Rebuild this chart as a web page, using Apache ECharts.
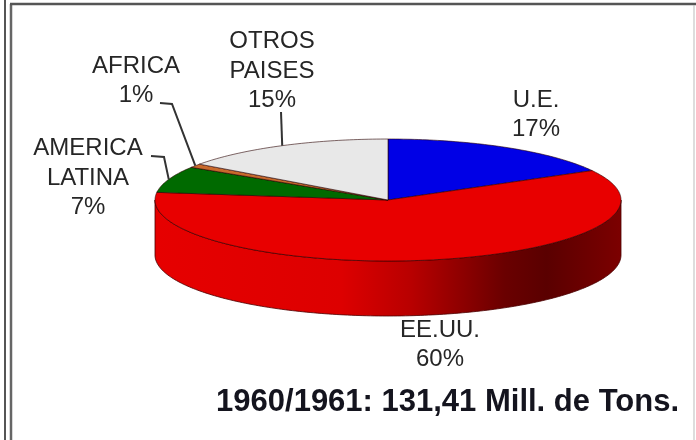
<!DOCTYPE html>
<html>
  <head>
    <meta charset="utf-8">
    <title></title>
    <script src="https://cdn.jsdelivr.net/npm/echarts@6/dist/echarts.min.js"></script>
    <style media="screen">
    html,body{
      height:100%;
      width:100%;
      margin:0px;
      background:#fff;
    }
    #chartDiv{
      width:696px;
      height:440px;
    }
    </style>
  </head>
  <body>
    <div id="chartDiv"></div>
    <script type="text/javascript">
      // datos
      var names = ['U.E.', 'EE.UU.', 'AMERICA\nLATINA', 'AFRICA', 'OTROS\nPAISES'];
      var values = [17, 60, 7, 1, 15];
      var colors = ['#0000e6', '#e80000', '#006a00', '#c8692c', '#e8e8e8'];
      var titleText = '1960/1961: 131,41 Mill. de Tons.';

      // geometria de la tarta 3D
      var cx = 388, cy = 200, rx = 233, ry = 61, depth = 55;
      var labelPos = [[536, 115], [440, 345], [88, 178], [136, 81], [272, 71]];
      // inicio del trazo de cada etiqueta (null = sin trazo)
      var leaderStart = [null, null, [[151, 156], [164, 157]], [[160, 103], [172, 104]], [[281, 112]]];

      var total = values.reduce(function(a, b){ return a + b; }, 0);
      var starts = [], run = 0;
      values.forEach(function(v){ starts.push(run); run += v; });

      function toAngle(v){ return v / total * Math.PI * 2; }
      function pt(a, dy){
        return [cx + rx * Math.sin(a), cy - ry * Math.cos(a) + (dy || 0)];
      }
      function arc(a0, a1, dy){
        var pts = [], n = Math.max(2, Math.ceil((a1 - a0) * 60));
        for (var i = 0; i <= n; i++) {
          pts.push(pt(a0 + (a1 - a0) * i / n, dy));
        }
        return pts;
      }

      var sideFill = new echarts.graphic.LinearGradient(cx - rx, 0, cx + rx, 0, [
        {offset: 0, color: '#e60000'},
        {offset: 0.4, color: '#dd0000'},
        {offset: 0.55, color: '#b80000'},
        {offset: 0.75, color: '#6a0000'},
        {offset: 0.84, color: '#5a0000'},
        {offset: 1, color: '#7c0000'}
      ], true);
      sideFill.global = true;

      function renderSlice(params, api){
        var i = params.dataIndex;
        var a0 = toAngle(api.value(1)), a1 = a0 + toAngle(api.value(0));
        var children = [];
        // pared frontal, solo la parte visible (90 a 270 grados)
        var s0 = Math.max(a0, Math.PI / 2), s1 = Math.min(a1, Math.PI * 1.5);
        if (s1 > s0) {
          children.push({
            type: 'polygon',
            shape: {points: arc(s0, s1, 0).concat(arc(s0, s1, depth).reverse())},
            style: {fill: sideFill, stroke: '#4a0000', lineWidth: 0.8}
          });
        }
        children.push({
          type: 'polygon',
          z2: 10,
          shape: {points: [[cx, cy]].concat(arc(a0, a1, 0))},
          style: {fill: colors[i], stroke: 'rgba(40,0,0,0.75)', lineWidth: 0.8}
        });
        return {type: 'group', children: children};
      }

      function renderLabel(params, api){
        var i = params.dataIndex;
        var a0 = toAngle(api.value(1)), a1 = a0 + toAngle(api.value(0));
        var children = [{
          type: 'text',
          x: labelPos[i][0],
          y: labelPos[i][1],
          style: {
            text: names[i] + '\n' + api.value(0) + '%',
            fill: '#262626',
            font: '24px "Liberation Sans"',
            lineHeight: 29.5,
            align: 'center',
            verticalAlign: 'middle'
          }
        }];
        if (leaderStart[i]) {
          children.push({
            type: 'polyline',
            shape: {points: leaderStart[i].concat([pt((a0 + a1) / 2)])},
            style: {fill: null, stroke: '#333', lineWidth: 2}
          });
        }
        return {type: 'group', children: children};
      }

      var seriesData = values.map(function(v, i){ return [v, starts[i]]; });

      var option = {
        backgroundColor: '#fff',
        animation: false,
        title: {
          text: titleText,
          right: 12,
          top: 382,
          textStyle: {fontFamily: 'Liberation Sans', fontSize: 31, fontWeight: 'bold', color: '#14141e'}
        },
        graphic: [
          {type: 'line', shape: {x1: 5, y1: 0, x2: 5, y2: 440}, style: {stroke: '#555', lineWidth: 2}},
          {type: 'line', shape: {x1: 11, y1: 4, x2: 11, y2: 440}, style: {stroke: '#666', lineWidth: 2.5}},
          {type: 'line', shape: {x1: 10, y1: 4, x2: 696, y2: 4}, style: {stroke: '#555', lineWidth: 2.5}},
          {type: 'line', shape: {x1: 694, y1: 5, x2: 694, y2: 440}, style: {stroke: '#bbb', lineWidth: 1}}
        ],
        series: [
          {type: 'custom', coordinateSystem: 'none', renderItem: renderSlice, data: seriesData, z: 2},
          {type: 'custom', coordinateSystem: 'none', renderItem: renderLabel, data: seriesData, z: 3}
        ]
      };

      var chart = echarts.init(document.getElementById('chartDiv'));
      chart.setOption(option);
    </script>
  </body>
</html>
